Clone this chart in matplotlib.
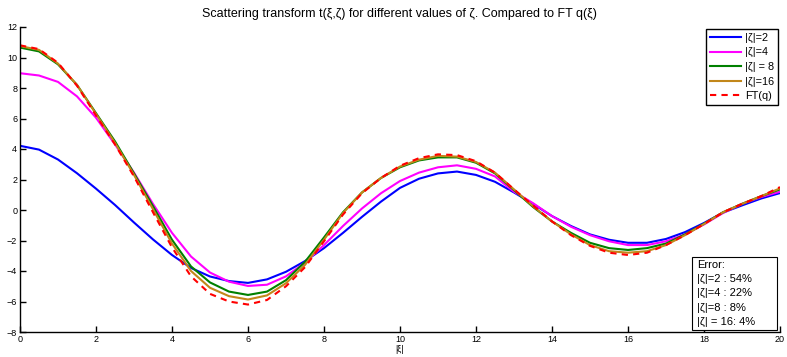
import matplotlib
matplotlib.use("Agg")
import matplotlib.pyplot as plt
from matplotlib.patches import Rectangle

plt.rcParams['font.family'] = ['Liberation Sans', 'DejaVu Sans']

xi = [i * 0.5 for i in range(41)]

t_z2 = [4.21, 3.96, 3.31, 2.41, 1.4, 0.33, -0.82, -1.93, -2.95, -3.8,
        -4.36, -4.66, -4.78, -4.55, -4.05, -3.35, -2.5, -1.5, -0.45, 0.55,
        1.45, 2.05, 2.4, 2.52, 2.3, 1.85, 1.15, 0.4, -0.4, -1.05,
        -1.6, -1.95, -2.15, -2.15, -1.9, -1.45, -0.85, -0.17, 0.3, 0.75, 1.11]

t_z4 = [8.97, 8.82, 8.4, 7.45, 6.05, 4.3, 2.45, 0.4, -1.5, -3.05,
        -4.1, -4.7, -4.98, -4.9, -4.35, -3.45, -2.3, -1.05, 0.1, 1.1,
        1.9, 2.45, 2.8, 2.93, 2.7, 2.2, 1.2, 0.45, -0.4, -1.1,
        -1.65, -2.05, -2.3, -2.3, -2.05, -1.6, -0.95, -0.2, 0.4, 0.85, 1.2]

t_z8 = [10.65, 10.4, 9.55, 8.2, 6.35, 4.5, 2.4, 0.25, -1.95, -3.7,
        -4.75, -5.35, -5.57, -5.35, -4.6, -3.4, -1.8, -0.15, 1.15, 2.1,
        2.8, 3.25, 3.45, 3.45, 3.1, 2.4, 1.3, 0.2, -0.75, -1.5,
        -2.15, -2.5, -2.62, -2.5, -2.2, -1.6, -0.9, -0.15, 0.4, 0.9, 1.35]

t_z16 = [10.75, 10.5, 9.6, 8.2, 6.3, 4.4, 2.3, 0.05, -2.2, -4.0,
         -5.1, -5.65, -5.87, -5.6, -4.8, -3.6, -1.95, -0.2, 1.15, 2.1,
         2.85, 3.3, 3.55, 3.5, 3.15, 2.45, 1.35, 0.25, -0.75, -1.6,
         -2.3, -2.7, -2.8, -2.7, -2.3, -1.65, -0.92, -0.15, 0.4, 0.9, 1.42]

ft_q = [10.8, 10.55, 9.65, 8.15, 6.2, 4.3, 2.2, -0.15, -2.45, -4.35,
        -5.5, -6.0, -6.2, -5.9, -5.0, -3.75, -2.05, -0.3, 1.1, 2.1,
        2.9, 3.4, 3.65, 3.6, 3.2, 2.45, 1.35, 0.3, -0.75, -1.65,
        -2.35, -2.8, -2.95, -2.8, -2.3, -1.65, -0.92, -0.15, 0.4, 0.9, 1.5]

labels = ['|ζ|=2', '|ζ|=4', '|ζ| = 8', '|ζ|=16', 'FT(q)']
error_lines = ['Error:', '|ζ|=2 : 54%', '|ζ|=4 : 22%', '|ζ|=8 : 8%', '|ζ| = 16: 4%']
title = 'Scattering transform t(ξ,ζ) for different values of ζ. Compared to FT q(ξ)'

W, H = 787, 357
fig = plt.figure(figsize=(W / 100, H / 100), dpi=100)
ax = fig.add_axes([20 / W, 1 - 332 / H, 760 / W, 305 / H])

ax.plot(xi, t_z2, color=(0, 0, 1), lw=1.5, label=labels[0])
ax.plot(xi, t_z4, color=(1, 0, 1), lw=1.5, label=labels[1])
ax.plot(xi, t_z8, color=(0, 0.5, 0), lw=1.5, label=labels[2])
ax.plot(xi, t_z16, color=(0.76, 0.53, 0.1), lw=1.5, label=labels[3])
ax.plot(xi, ft_q, color=(1, 0, 0), lw=1.5, ls=(0, (3, 2.5)), label=labels[4])

ax.set_xlim(0, 20)
ax.set_ylim(-8, 12)
ax.set_xticks(range(0, 21, 2))
ax.set_yticks(range(-8, 13, 2))
ax.set_yticklabels(['\u22128', '\u22126', '\u22124', '\u22122', '0', '2', '4', '6', '8', '10', '12'])
ax.tick_params(direction='in', length=4, width=1, labelsize=6.5, pad=2)
for s in ['top', 'right']:
    ax.spines[s].set_visible(False)
for s in ['left', 'bottom']:
    ax.spines[s].set_linewidth(1)
ax.set_xlabel('|ξ|', fontsize=6.5, labelpad=1)
fig.text(0.5 * (171 + 628) / W, 1 - 14 / H, title, ha='center', va='center', fontsize=9)

leg = ax.legend(loc='upper right', bbox_to_anchor=(1.0 - 2 / 760, 1.0 - 2 / 305), fontsize=7.8,
                fancybox=False, framealpha=1, edgecolor='black', handlelength=2.9,
                handletextpad=0.35, labelspacing=0.42, borderpad=0.35, borderaxespad=0)
leg.get_frame().set_linewidth(1)

# error box
rect = Rectangle((692 / W, 1 - 330 / H), 85 / W, 73 / H, transform=fig.transFigure,
                 facecolor='white', edgecolor='black', lw=0.8, zorder=5)
fig.patches.append(rect)
for i, line in enumerate(error_lines):
    fig.text(697 / W, 1 - (265 + i * 14.2) / H, line, ha='left', va='center',
             fontsize=8, zorder=6)

fig.savefig('out.png', dpi=100)
